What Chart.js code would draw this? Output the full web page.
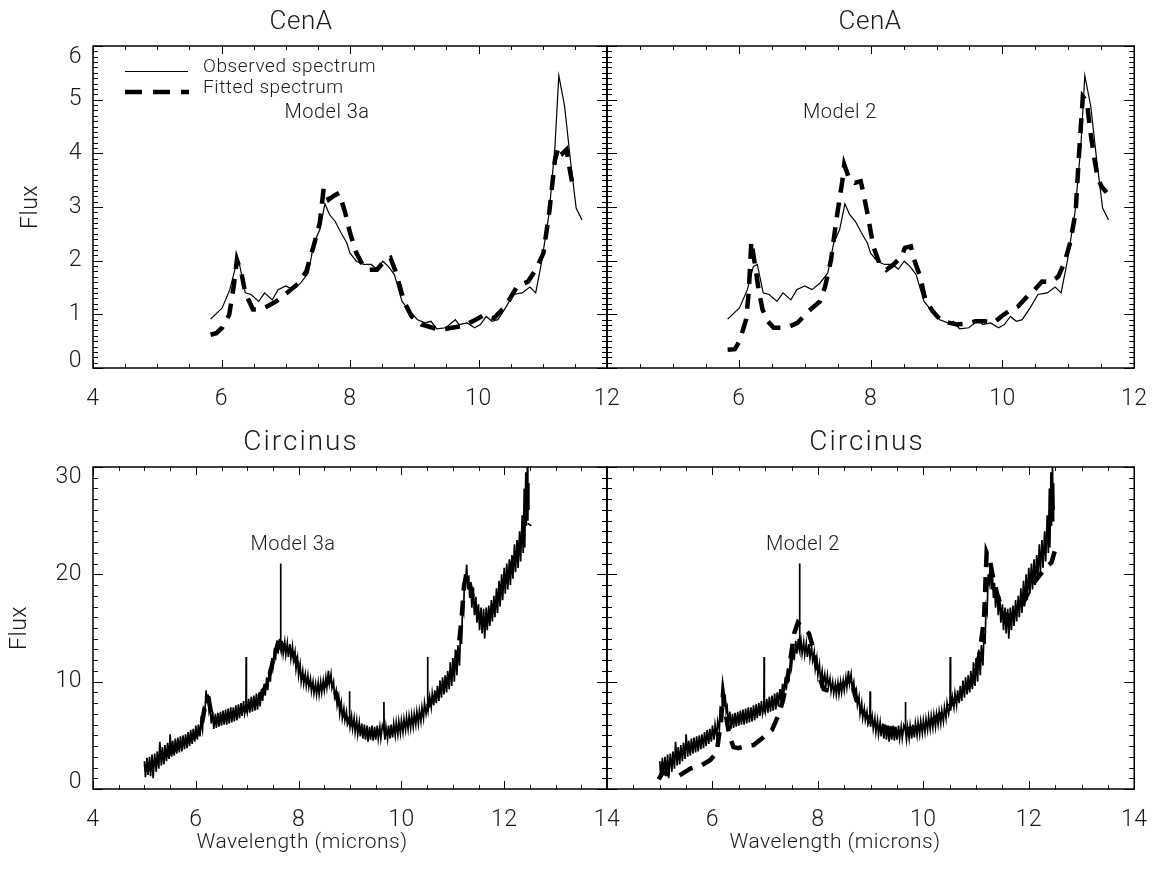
<!DOCTYPE html>
<html>
<head>
<meta charset="utf-8">
<title>CenA / Circinus spectral fits</title>
<script src="https://cdn.jsdelivr.net/npm/chart.js@4.4.0/dist/chart.umd.min.js"></script>
<style>
  html, body { margin: 0; padding: 0; background: #fff; }
  #wrap { position: relative; width: 1164px; height: 874px; }
  #wrap canvas { position: absolute; left: 0; top: 0; }
</style>
</head>
<body>
<div id="wrap">
  <canvas id="cenA3a" width="1164" height="874"></canvas>
  <canvas id="cenA2" width="1164" height="874"></canvas>
  <canvas id="circ3a" width="1164" height="874"></canvas>
  <canvas id="circ2" width="1164" height="874"></canvas>
</div>
<script>
// ---- CenA (top row) ----
const cenaObsWave = [5.83, 6.01, 6.13, 6.22, 6.28, 6.37, 6.46, 6.58, 6.67, 6.79, 6.88, 7.00, 7.11, 7.23, 7.35,
  7.44, 7.53, 7.61, 7.68, 7.77, 7.86, 7.95, 8.00, 8.10, 8.21, 8.33, 8.42, 8.51, 8.60, 8.69, 8.81, 8.93, 9.05,
  9.17, 9.26, 9.35, 9.49, 9.64, 9.70, 9.82, 9.94, 10.03, 10.12, 10.21, 10.30, 10.42, 10.54, 10.68, 10.80,
  10.89, 10.98, 11.10, 11.19, 11.25, 11.34, 11.43, 11.52, 11.61];
const cenaObsFlux = [0.91, 1.12, 1.46, 1.89, 1.93, 1.40, 1.37, 1.24, 1.40, 1.27, 1.46, 1.53, 1.46, 1.58, 1.77,
  2.33, 2.58, 3.06, 2.86, 2.73, 2.52, 2.33, 2.14, 1.99, 1.93, 1.93, 1.84, 1.99, 1.89, 1.74, 1.24, 1.06, 0.90,
  0.84, 0.87, 0.73, 0.75, 0.90, 0.81, 0.84, 0.75, 0.81, 0.96, 0.87, 0.90, 1.12, 1.37, 1.40, 1.51,
  1.40, 1.96, 2.89, 4.13, 5.45, 4.88, 3.88, 2.98, 2.76];

const cenaFit3aWave = [5.83, 5.92, 6.01, 6.12, 6.19, 6.24, 6.31, 6.37, 6.49, 6.61, 6.73, 6.85, 6.96, 7.08, 7.20,
  7.32, 7.44, 7.53, 7.59, 7.67, 7.74, 7.83, 7.92, 8.00, 8.10, 8.21, 8.30, 8.42, 8.51, 8.63, 8.72, 8.84, 8.96,
  9.11, 9.29, 9.40, 9.58, 9.76, 9.94, 10.09, 10.24, 10.42, 10.60, 10.77, 10.89, 11.01, 11.10, 11.19, 11.25,
  11.31, 11.37, 11.43, 11.47];
const cenaFit3aFlux = [0.62, 0.65, 0.75, 0.99, 1.52, 2.02, 1.77, 1.40, 1.09, 1.09, 1.16, 1.24, 1.34, 1.46, 1.58,
  1.80, 2.30, 2.70, 3.35, 3.14, 3.20, 3.26, 2.92, 2.52, 2.14, 1.89, 1.83, 1.83, 1.96, 2.05, 1.77, 1.24, 0.96,
  0.81, 0.75, 0.71, 0.75, 0.78, 0.89, 0.99, 0.93, 1.15, 1.52, 1.61, 1.83, 2.14, 2.89, 3.88, 4.13,
  4.00, 4.07, 3.63, 3.39];

const cenaFit2Wave = [5.83, 5.94, 6.01, 6.11, 6.15, 6.19, 6.25, 6.30, 6.36, 6.44, 6.53, 6.64, 6.78, 6.89, 7.06,
  7.23, 7.31, 7.40, 7.48, 7.57, 7.60, 7.68, 7.76, 7.85, 7.89, 7.96, 8.04, 8.13, 8.24, 8.35, 8.47, 8.52, 8.61,
  8.66, 8.75, 8.83, 8.94, 9.08, 9.20, 9.31, 9.48, 9.59, 9.73, 9.87, 9.98, 10.10, 10.24, 10.38, 10.49, 10.60,
  10.74, 10.85, 10.94, 11.02, 11.11, 11.16, 11.22, 11.28, 11.33, 11.39, 11.44, 11.50, 11.58];
const cenaFit2Flux = [0.34, 0.35, 0.50, 0.90, 1.40, 2.36, 1.89, 1.46, 1.09, 0.87, 0.75, 0.75, 0.78, 0.84, 1.06,
  1.24, 1.52, 2.02, 2.76, 3.48, 3.79, 3.51, 3.45, 3.48, 3.26, 2.83, 2.27, 1.96, 1.83, 1.93, 2.08, 2.24, 2.27,
  2.02, 1.71, 1.27, 1.06, 0.87, 0.84, 0.81, 0.83, 0.87, 0.87, 0.84, 0.96, 1.06, 1.15, 1.34, 1.46, 1.61,
  1.60, 1.71, 1.96, 2.30, 2.89, 3.94, 5.06, 4.97, 4.44, 3.94, 3.57, 3.39, 3.27];

// ---- Circinus (bottom row), [wavelength, flux] ----
const circObs = [
  [5.00, 2.6], [5.02, 1.1], [5.05, 2.9], [5.07, 1.3], [5.10, 3.0], [5.12, 1.2], [5.15, 3.2], [5.17, 1.0],
  [5.20, 3.3], [5.23, 1.6], [5.25, 3.5], [5.28, 1.9], [5.30, 4.4], [5.33, 2.2], [5.35, 3.9], [5.38, 2.3],
  [5.40, 4.1], [5.43, 2.6], [5.45, 4.3], [5.48, 2.8], [5.50, 5.1], [5.53, 3.0], [5.55, 4.5], [5.58, 3.1],
  [5.60, 4.7], [5.63, 3.3], [5.65, 4.8], [5.68, 3.4], [5.70, 4.9], [5.73, 3.5], [5.75, 5.0], [5.78, 3.7],
  [5.80, 5.1], [5.83, 3.8], [5.85, 5.3], [5.88, 4.0], [5.90, 5.5], [5.93, 4.2], [5.95, 5.6], [5.98, 4.4],
  [6.00, 5.9], [6.03, 4.6], [6.05, 6.0], [6.08, 4.9], [6.10, 6.3], [6.13, 5.5], [6.15, 7.6], [6.18, 7.4],
  [6.20, 9.2], [6.22, 8.0], [6.24, 8.8], [6.26, 7.2], [6.28, 7.6], [6.30, 6.1], [6.33, 7.2], [6.35, 5.6],
  [6.38, 7.0], [6.40, 5.7], [6.43, 7.1], [6.45, 5.8], [6.48, 7.2], [6.50, 5.9], [6.53, 7.3], [6.55, 6.0],
  [6.58, 7.4], [6.60, 6.0], [6.63, 7.5], [6.65, 6.1], [6.68, 7.6], [6.70, 6.2], [6.73, 7.6], [6.75, 6.3],
  [6.78, 7.8], [6.80, 6.4], [6.83, 7.9], [6.85, 6.6], [6.88, 8.0], [6.90, 6.8], [6.93, 8.2], [6.95, 7.0],
  [6.975, 7.6], [6.98, 12.3], [6.985, 7.4], [7.00, 7.1], [7.03, 8.4], [7.05, 7.1], [7.08, 8.6], [7.10, 7.2],
  [7.13, 8.7], [7.15, 7.3], [7.18, 8.9], [7.20, 7.4], [7.23, 9.0], [7.25, 7.7], [7.28, 9.3], [7.30, 8.2],
  [7.33, 9.8], [7.35, 8.7], [7.38, 10.4], [7.40, 9.2], [7.43, 11.2], [7.45, 10.0], [7.48, 12.2], [7.50, 11.4],
  [7.53, 13.1], [7.55, 12.0], [7.58, 13.8], [7.60, 12.6], [7.63, 14.0], [7.645, 13.0], [7.65, 21.0],
  [7.655, 13.0], [7.66, 12.8], [7.68, 13.8], [7.70, 12.6], [7.73, 13.7], [7.75, 12.5], [7.78, 13.6],
  [7.80, 12.3], [7.83, 13.5], [7.85, 12.2], [7.88, 13.3], [7.90, 12.0], [7.93, 12.8], [7.95, 11.2],
  [7.98, 12.2], [8.00, 10.6], [8.03, 11.6], [8.05, 10.0], [8.08, 11.0], [8.10, 9.8], [8.13, 10.7], [8.15, 9.6],
  [8.18, 10.6], [8.20, 9.5], [8.23, 10.3], [8.25, 9.1], [8.28, 10.0], [8.30, 8.9], [8.33, 9.8], [8.35, 8.8],
  [8.38, 9.9], [8.40, 8.8], [8.43, 10.0], [8.45, 9.0], [8.48, 10.1], [8.50, 9.2], [8.53, 10.4], [8.55, 9.5],
  [8.58, 11.0], [8.60, 9.8], [8.63, 10.7], [8.65, 9.4], [8.68, 10.0], [8.70, 8.6], [8.73, 9.2], [8.75, 7.8],
  [8.78, 8.6], [8.80, 7.0], [8.83, 8.0], [8.85, 6.6], [8.88, 7.5], [8.90, 6.4], [8.93, 7.2], [8.95, 6.0],
  [8.985, 6.4], [8.99, 9.1], [8.995, 6.2], [9.00, 5.8], [9.03, 6.8], [9.05, 5.6], [9.08, 6.6], [9.10, 5.3],
  [9.13, 6.4], [9.15, 5.1], [9.18, 6.2], [9.20, 4.9], [9.23, 6.1], [9.25, 4.7], [9.28, 6.0], [9.30, 4.6],
  [9.33, 5.9], [9.35, 4.4], [9.38, 5.8], [9.40, 4.6], [9.43, 5.9], [9.45, 4.5], [9.48, 5.8], [9.50, 4.6],
  [9.53, 5.9], [9.55, 4.7], [9.58, 5.8], [9.60, 4.7], [9.63, 5.9], [9.655, 5.5], [9.66, 8.1], [9.665, 5.3],
  [9.68, 4.6], [9.70, 5.8], [9.73, 4.7], [9.75, 5.9], [9.78, 4.7], [9.80, 6.0], [9.83, 4.8], [9.85, 6.1],
  [9.88, 5.0], [9.90, 6.2], [9.93, 5.1], [9.95, 6.3], [9.98, 5.2], [10.00, 6.4], [10.03, 5.3], [10.05, 6.5],
  [10.08, 5.5], [10.10, 6.7], [10.13, 5.6], [10.15, 6.8], [10.18, 5.7], [10.20, 6.9], [10.23, 5.8],
  [10.25, 7.0], [10.28, 6.0], [10.30, 7.2], [10.33, 6.1], [10.35, 7.3], [10.38, 6.3], [10.40, 7.6],
  [10.43, 6.6], [10.45, 8.0], [10.48, 7.0], [10.505, 7.8], [10.51, 12.3], [10.515, 7.6], [10.52, 7.3],
  [10.55, 8.6], [10.58, 7.6], [10.60, 8.9], [10.63, 7.8], [10.65, 9.2], [10.68, 8.0], [10.70, 9.6],
  [10.73, 8.2], [10.75, 10.1], [10.78, 8.5], [10.80, 10.4], [10.83, 8.8], [10.85, 10.6], [10.88, 9.0],
  [10.90, 11.0], [10.93, 9.3], [10.95, 11.8], [10.98, 9.6], [11.00, 12.2], [11.03, 10.0], [11.05, 13.0],
  [11.08, 10.6], [11.10, 13.4], [11.13, 11.5], [11.15, 14.5], [11.17, 13.5], [11.19, 17.0], [11.21, 16.5],
  [11.23, 20.0], [11.25, 19.3], [11.27, 20.9], [11.29, 18.6], [11.31, 19.9], [11.33, 17.8], [11.35, 19.2],
  [11.37, 16.9], [11.40, 18.8], [11.42, 16.2], [11.45, 17.9], [11.47, 15.5], [11.50, 17.2], [11.52, 14.8],
  [11.55, 16.9], [11.57, 14.5], [11.60, 16.8], [11.62, 14.0], [11.65, 16.9], [11.67, 14.8], [11.70, 17.1],
  [11.72, 15.2], [11.75, 17.6], [11.77, 15.6], [11.80, 18.0], [11.82, 16.0], [11.85, 18.7], [11.87, 16.4],
  [11.90, 19.4], [11.92, 17.0], [11.95, 20.0], [11.97, 17.6], [12.00, 20.6], [12.02, 18.2], [12.05, 21.0],
  [12.07, 18.6], [12.10, 21.4], [12.12, 19.0], [12.15, 21.8], [12.17, 19.6], [12.20, 22.8], [12.22, 20.2],
  [12.25, 23.2], [12.27, 20.6], [12.30, 24.0], [12.32, 21.2], [12.35, 25.5], [12.37, 22.0], [12.39, 28.0],
  [12.40, 22.5], [12.42, 29.5], [12.43, 24.5], [12.45, 30.2], [12.46, 25.0], [12.47, 28.5], [12.48, 26.0]
];

const circFit3a = [
  [5.00, 2.0], [5.20, 2.4], [5.40, 3.0], [5.60, 3.7], [5.80, 4.3], [6.00, 5.0], [6.10, 5.6], [6.20, 8.3],
  [6.25, 8.4], [6.30, 7.0], [6.40, 6.4], [6.60, 6.7], [6.80, 7.0], [7.00, 7.6], [7.20, 8.2], [7.40, 9.9],
  [7.50, 11.9], [7.60, 13.6], [7.70, 13.4], [7.80, 13.2], [7.90, 12.6], [8.00, 11.3], [8.10, 10.3],
  [8.20, 9.9], [8.30, 9.4], [8.40, 9.2], [8.50, 9.6], [8.60, 10.1], [8.70, 9.3], [8.80, 7.7], [8.90, 6.8],
  [9.00, 6.2], [9.20, 5.4], [9.40, 5.1], [9.60, 5.2], [9.80, 5.3], [10.00, 5.8], [10.20, 6.3], [10.40, 6.9],
  [10.60, 8.3], [10.80, 9.4], [11.00, 11.0], [11.10, 12.6], [11.17, 15.8], [11.22, 19.0], [11.27, 20.0],
  [11.32, 19.3], [11.40, 17.6], [11.50, 16.1], [11.60, 15.6], [11.70, 16.0], [11.80, 17.0], [11.90, 18.2],
  [12.00, 19.4], [12.10, 20.2], [12.20, 21.6], [12.30, 22.7], [12.40, 24.0], [12.50, 24.7]
];

const circFit2 = [
  [4.98, 0.9], [5.05, 1.5], [5.23, 1.3], [5.37, 1.25], [5.58, 1.9], [5.79, 2.2], [5.96, 2.7], [6.08, 3.4],
  [6.16, 6.2], [6.20, 8.8], [6.25, 7.0], [6.32, 5.0], [6.40, 3.9], [6.49, 3.8], [6.64, 4.0], [6.78, 4.1],
  [6.99, 4.9], [7.13, 5.5], [7.27, 7.1], [7.34, 8.3], [7.44, 10.8], [7.55, 14.5], [7.62, 15.5], [7.72, 15.0],
  [7.83, 14.5], [7.90, 13.3], [8.00, 10.8], [8.11, 9.3], [8.25, 9.1], [8.39, 9.6], [8.53, 9.9], [8.64, 10.2],
  [8.71, 8.6], [8.81, 7.4], [9.02, 6.3], [9.30, 5.7], [9.59, 5.5], [9.87, 5.7], [10.15, 6.3], [10.43, 7.4],
  [10.71, 8.8], [10.92, 9.9], [11.06, 12.4], [11.15, 15.8], [11.20, 22.0], [11.27, 21.1], [11.34, 19.2],
  [11.41, 18.0], [11.52, 16.4], [11.62, 16.1], [11.77, 16.4], [11.91, 17.5], [12.05, 18.9], [12.19, 19.8],
  [12.33, 20.7], [12.43, 21.1], [12.50, 22.3]
];

const FAMILY = 'Roboto, "Liberation Sans", sans-serif';
const INK = '#1a1a1a';

const zip = (xs, ys) => xs.map((x, i) => ({x: x, y: ys[i]}));
const pairs = list => list.map(p => ({x: p[0], y: p[1]}));

// inward IDL-style ticks on all four sides plus the box
const frameTicks = {
  id: 'frameTicks',
  afterDatasetsDraw(chart, args, o) {
    const {ctx, chartArea: a} = chart;
    const xs = chart.scales.x, ys = chart.scales.y;
    const onStep = (v, step) => Math.abs(v / step - Math.round(v / step)) < 1e-6;
    ctx.save();
    ctx.strokeStyle = '#000';
    ctx.lineWidth = 1;
    ctx.beginPath();
    const nx = Math.round((xs.max - xs.min) / o.xMinor);
    for (let i = 0; i <= nx; i++) {
      const v = xs.min + i * o.xMinor;
      const px = Math.round(xs.getPixelForValue(v)) + 0.5;
      const len = onStep(v, o.xMajor) ? 8 : 4;
      ctx.moveTo(px, a.bottom); ctx.lineTo(px, a.bottom - len);
      ctx.moveTo(px, a.top); ctx.lineTo(px, a.top + len);
    }
    const ny = Math.round((ys.max - ys.min) / o.yMinor);
    for (let i = 0; i <= ny; i++) {
      const v = ys.min + i * o.yMinor;
      const py = Math.round(ys.getPixelForValue(v)) + 0.5;
      const len = onStep(v, o.yMajor) ? 10 : 5;
      ctx.moveTo(a.left, py); ctx.lineTo(a.left + len, py);
      ctx.moveTo(a.right, py); ctx.lineTo(a.right - len, py);
    }
    ctx.stroke();
    ctx.lineWidth = 1.5;
    ctx.strokeRect(a.left, a.top, a.right - a.left, a.bottom - a.top);
    ctx.restore();
  }
};

// pull the first and last y labels inside the box
const endLabels = {
  id: 'endLabels',
  beforeDraw(chart, args, o) {
    chart.ctx.letterSpacing = '0.5px';
    if (!o.shift) return;
    const items = chart.scales.y.getLabelItems();
    if (!items.length || items._moved) return;
    items[0].options.translation[1] -= o.shift[0];
    items[items.length - 1].options.translation[1] += o.shift[1];
    items._moved = true;
  }
};

// titles, model names, axis names and the legend
const panelText = {
  id: 'panelText',
  afterDraw(chart, args, o) {
    const ctx = chart.ctx;
    ctx.save();
    ctx.fillStyle = INK;
    ctx.textAlign = 'center';
    ctx.textBaseline = 'middle';
    ctx.letterSpacing = o.titleSpacing + 'px';
    ctx.font = '300 ' + o.titleSize + 'px ' + FAMILY;
    ctx.fillText(o.title, o.titleAt[0], o.titleAt[1]);
    ctx.letterSpacing = '0.5px';
    ctx.font = '300 20px ' + FAMILY;
    ctx.fillText(o.model, o.modelAt[0], o.modelAt[1]);
    if (o.xTitle) {
      ctx.font = '300 21px ' + FAMILY;
      ctx.fillText(o.xTitle, o.xTitleAt[0], o.xTitleAt[1]);
    }
    if (o.yTitle) {
      ctx.save();
      ctx.translate(o.yTitleAt[0], o.yTitleAt[1]);
      ctx.rotate(-Math.PI / 2);
      ctx.font = '300 23px ' + FAMILY;
      ctx.fillText(o.yTitle, 0, 0);
      ctx.restore();
    }
    if (o.legend) {
      ctx.strokeStyle = '#000';
      ctx.lineWidth = 1.2;
      ctx.beginPath();
      ctx.moveTo(125, 71.5); ctx.lineTo(188, 71.5);
      ctx.stroke();
      ctx.lineWidth = 4.5;
      ctx.setLineDash([17, 11]);
      ctx.beginPath();
      ctx.moveTo(125, 92); ctx.lineTo(189, 92);
      ctx.stroke();
      ctx.setLineDash([]);
      ctx.textAlign = 'left';
      ctx.letterSpacing = '0.6px';
      ctx.font = '300 19px ' + FAMILY;
      ctx.fillText('Observed spectrum', 203, 67);
      ctx.fillText('Fitted spectrum', 203, 88);
    }
    ctx.restore();
    ctx.letterSpacing = '0px';
  }
};

function panel(id, cfg) {
  const tickFont = {family: FAMILY, size: 23, weight: 300};
  new Chart(document.getElementById(id), {
    type: 'line',
    data: {
      datasets: [
        {data: cfg.fit, borderColor: '#000', borderWidth: 4.5, borderDash: [15, 10],
         pointRadius: 0, tension: 0, fill: false},
        {data: cfg.obs, borderColor: '#000', borderWidth: cfg.obsWidth,
         pointRadius: 0, tension: 0, fill: false}
      ]
    },
    options: {
      responsive: false,
      devicePixelRatio: 1,
      animation: false,
      events: [],
      layout: {padding: cfg.padding},
      plugins: {
        legend: {display: false},
        tooltip: {enabled: false},
        frameTicks: cfg.ticks,
        endLabels: {shift: cfg.yLabels ? cfg.labelShift : null},
        panelText: cfg.text
      },
      scales: {
        x: {
          type: 'linear', min: cfg.xMin, max: cfg.xMax,
          grid: {display: false, drawTicks: false}, border: {display: false},
          afterFit: s => { s.height = 50; },
          ticks: {
            stepSize: 2, padding: 17, color: INK, font: tickFont, maxRotation: 0,
            callback: v => (cfg.skipFirstX && v === cfg.xMin) ? '' : String(v)
          }
        },
        y: {
          type: 'linear', min: cfg.yMin, max: cfg.yMax,
          grid: {display: false, drawTicks: false}, border: {display: false},
          afterFit: s => { s.width = cfg.yWidth; },
          ticks: {stepSize: cfg.yStep, padding: 11, color: INK, font: tickFont, display: cfg.yLabels}
        }
      }
    },
    plugins: [frameTicks, endLabels, panelText]
  });
}

const topTicks = {xMinor: 0.5, xMajor: 2, yMinor: 0.1, yMajor: 1};
const botTicks = {xMinor: 0.5, xMajor: 2, yMinor: 1, yMajor: 10};

panel('cenA3a', {
  obs: zip(cenaObsWave, cenaObsFlux), fit: zip(cenaFit3aWave, cenaFit3aFlux), obsWidth: 1.2,
  xMin: 4, xMax: 12, yMin: 0, yMax: 6, yStep: 1, yLabels: true, yWidth: 93, skipFirstX: false,
  labelShift: [7, 11],
  padding: {left: 0, top: 46, right: 1164 - 607, bottom: 874 - 368 - 50},
  ticks: topTicks,
  text: {title: 'CenA', titleSize: 26, titleSpacing: 0.5, titleAt: [301, 22], model: 'Model 3a', modelAt: [327, 113],
         yTitle: 'Flux', yTitleAt: [31, 207], legend: true}
});

panel('cenA2', {
  obs: zip(cenaObsWave, cenaObsFlux), fit: zip(cenaFit2Wave, cenaFit2Flux), obsWidth: 1.2,
  xMin: 4, xMax: 12, yMin: 0, yMax: 6, yStep: 1, yLabels: false, yWidth: 10, skipFirstX: true,
  padding: {left: 597, top: 46, right: 1164 - 1138, bottom: 874 - 368 - 50},
  ticks: topTicks,
  text: {title: 'CenA', titleSize: 26, titleSpacing: 0.5, titleAt: [870, 22], model: 'Model 2', modelAt: [840, 113]}
});

panel('circ3a', {
  obs: pairs(circObs), fit: pairs(circFit3a), obsWidth: 1.7,
  xMin: 4, xMax: 14, yMin: 0, yMax: 30, yStep: 10, yLabels: true, yWidth: 93, skipFirstX: false,
  labelShift: [7, 10],
  padding: {left: 0, top: 467, right: 1164 - 607, bottom: 874 - 789 - 50},
  ticks: botTicks,
  text: {title: 'Circinus', titleSize: 28, titleSpacing: 2, titleAt: [301, 443], model: 'Model 3a', modelAt: [293, 545],
         yTitle: 'Flux', yTitleAt: [20, 628], xTitle: 'Wavelength (microns)', xTitleAt: [302, 843]}
});

panel('circ2', {
  obs: pairs(circObs), fit: pairs(circFit2), obsWidth: 1.7,
  xMin: 4, xMax: 14, yMin: 0, yMax: 30, yStep: 10, yLabels: false, yWidth: 10, skipFirstX: true,
  padding: {left: 597, top: 467, right: 1164 - 1138, bottom: 874 - 789 - 50},
  ticks: botTicks,
  text: {title: 'Circinus', titleSize: 28, titleSpacing: 2, titleAt: [867, 443], model: 'Model 2', modelAt: [803, 545],
         xTitle: 'Wavelength (microns)', xTitleAt: [835, 843]}
});
</script>
</body>
</html>
